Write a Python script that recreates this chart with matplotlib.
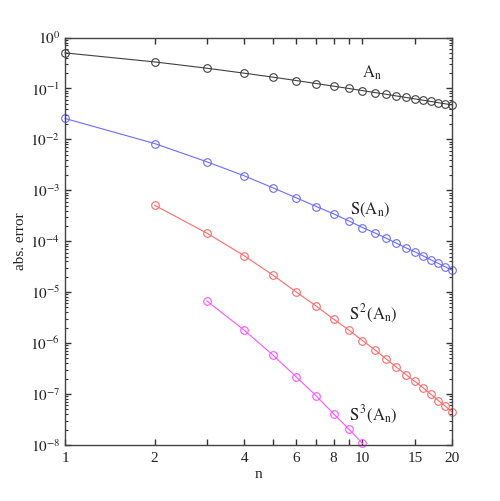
import matplotlib
matplotlib.use("Agg")
import matplotlib.pyplot as plt
from matplotlib.ticker import FixedLocator, NullLocator, LogLocator, NullFormatter

plt.rcParams['font.family'] = ['Liberation Serif', 'DejaVu Serif']
plt.rcParams['mathtext.fontset'] = 'stix'

n_A = list(range(1, 21))
err_A = [0.5, 0.333, 0.25, 0.2, 0.167, 0.143, 0.125, 0.111, 0.1, 0.0909,
         0.0833, 0.0769, 0.0714, 0.0667, 0.0625, 0.0588, 0.0556, 0.0526, 0.05, 0.0476]

n_S1 = list(range(1, 21))
err_S1 = [2.58e-2, 8.3e-3, 3.63e-3, 1.93e-3, 1.12e-3, 7.1e-4, 4.8e-4, 3.45e-4, 2.5e-4, 1.86e-4,
          1.46e-4, 1.15e-4, 9.2e-5, 7.4e-5, 6.2e-5, 5.15e-5, 4.3e-5, 3.66e-5, 3.14e-5, 2.7e-5]

n_S2 = list(range(2, 21))
err_S2 = [5.1e-4, 1.44e-4, 5.2e-5, 2.16e-5, 1.0e-5, 5.3e-6, 2.95e-6, 1.8e-6, 1.12e-6,
          7.4e-7, 4.9e-7, 3.37e-7, 2.4e-7, 1.77e-7, 1.32e-7, 9.8e-8, 7.4e-8, 5.75e-8, 4.45e-8]

n_S3 = list(range(3, 11))
err_S3 = [6.7e-6, 1.8e-6, 5.8e-7, 2.14e-7, 9.1e-8, 4.07e-8, 2.04e-8, 1.07e-8]

x_ticks = [1, 2, 3, 4, 5, 6, 7, 8, 9, 10, 15, 20]
x_labels = ['1', '2', '', '4', '', '6', '', '8', '', '10', '15', '20']
y_exps = [0, -1, -2, -3, -4, -5, -6, -7, -8]

fig = plt.figure(figsize=(5.0, 5.01), dpi=100)
ax = fig.add_axes([0.13, 0.112, 0.774, 0.813])

series = [
    (n_A, err_A, '#404040'),
    (n_S1, err_S1, '#6b6bff'),
    (n_S2, err_S2, '#ff6b6b'),
    (n_S3, err_S3, '#ff55ff'),
]
for xs, ys, c in series:
    ax.plot(xs, ys, '-', color=c, lw=0.8, marker='o', ms=5.5,
            mfc='none', mec=c, mew=0.8, clip_on=False)

ax.set_xscale('log')
ax.set_yscale('log')
ax.set_xlim(1, 20)
ax.set_ylim(1e-8, 1)

ax.xaxis.set_major_locator(FixedLocator(x_ticks))
ax.xaxis.set_minor_locator(NullLocator())
ax.set_xticklabels(x_labels)
ax.yaxis.set_major_locator(FixedLocator([10.0**e for e in y_exps]))
ax.set_yticklabels([r'$10^{%d}$' % e for e in y_exps])
ax.yaxis.set_minor_locator(LogLocator(base=10, subs=range(2, 10), numticks=20))
ax.yaxis.set_minor_formatter(NullFormatter())

ax.tick_params(which='both', direction='in', top=True, right=True,
               colors='#333333', labelcolor='#222222', labelsize=11)
ax.tick_params(which='major', length=4, width=1)
ax.tick_params(which='minor', length=2, width=0.8)
for s in ax.spines.values():
    s.set_color('#444444')
    s.set_linewidth(1.0)
ax.tick_params(axis='x', pad=5)

ax.set_xlabel('n', fontsize=11, color='#222222', labelpad=2)
ax.set_ylabel('abs. error', fontsize=11, color='#222222', labelpad=2)

kw = dict(fontsize=12, color='#222222', va='baseline')
ax.text(10.0, 0.16, r'$\mathrm{A}_{\mathrm{n}}$', **kw)
ax.text(9.1, 3.5e-4, r'$\mathrm{S(A}_{\mathrm{n}}\mathrm{)}$', **kw)
ax.text(9.0, 2.95e-6, r'$\mathrm{S}^{\,2}\mathrm{(A}_{\mathrm{n}}\mathrm{)}$', **kw)
ax.text(9.0, 3.1e-8, r'$\mathrm{S}^{\,3}\mathrm{(A}_{\mathrm{n}}\mathrm{)}$', **kw)

fig.savefig('out.png', dpi=100)
